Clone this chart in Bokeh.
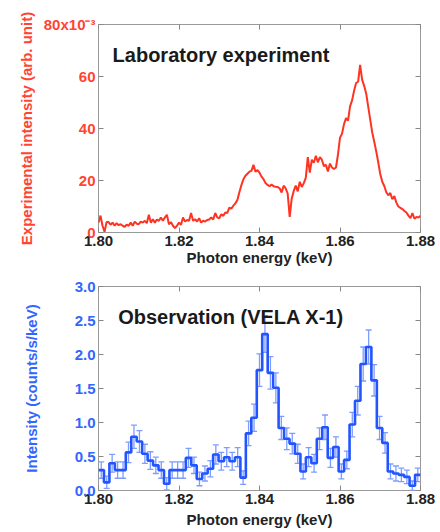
import numpy as np
from bokeh.plotting import figure
from bokeh.models import (FixedTicker, PrintfTickFormatter, LinearAxis, Label,
                          Range1d, Whisker, ColumnDataSource, TeeHead)
from bokeh.layouts import column
from bokeh.embed import file_html
from bokeh.resources import INLINE

# ---------------- data ----------------
# Laboratory experiment: photon energy grid (keV) and intensity (x10^-3 arb. unit)
lab_start = 1.800
lab_step = 0.0005
lab_intensity = [
    3.8, 6.5, 2.6, 0.3, 4.0, 4.0, 3.0, 3.8, 2.6, 3.6,
    2.8, 3.2, 2.6, 2.2, 3.0, 2.6, 3.8, 2.6, 4.2, 3.4,
    3.2, 4.2, 3.8, 4.5, 3.6, 6.8, 3.8, 5.1, 3.8, 5.0,
    4.5, 5.8, 4.5, 5.8, 6.8, 3.2, 4.0, 2.6, 1.7, 2.6,
    3.8, 3.0, 5.8, 4.2, 4.8, 4.5, 7.5, 4.5, 5.1, 4.2,
    5.5, 3.8, 4.5, 4.2, 4.8, 5.0, 5.8, 5.0, 7.5, 5.8,
    5.5, 7.0, 6.4, 7.7, 7.5, 9.6, 9.2, 10.3, 11.2, 12.5,
    15.5, 18.2, 20.5, 21.8, 22.6, 23.4, 23.7, 26.0, 23.4, 24.0,
    23.0, 21.5, 20.5, 19.0, 18.3, 17.8, 18.5, 17.8, 17.6, 17.5,
    17.0, 15.4, 18.0, 17.0, 15.0, 6.0, 13.0, 16.0, 18.0, 15.8,
    19.5, 17.5, 19.0, 21.0, 29.0, 23.0, 28.0, 26.8, 29.5, 27.0,
    29.0, 28.0, 25.5, 26.0, 23.5, 26.5, 25.0, 24.4, 25.0, 30.0,
    36.5, 38.0, 41.7, 44.0, 43.0, 48.5, 50.8, 54.5, 57.5, 58.0,
    64.5, 58.8, 56.4, 53.5, 48.5, 43.5, 38.5, 35.0, 31.2, 27.0,
    22.5, 19.5, 17.9, 15.5, 14.3, 15.2, 12.8, 14.0, 11.5, 10.0,
    9.5, 9.0, 8.3, 7.7, 6.5, 5.5, 7.5, 5.3, 6.0, 5.8, 6.4,
]

# Observation (VELA X-1): binned spectrum 1.80-1.88 keV
obs_range = (1.80, 1.88)
obs_values = [
    0.30, 0.12, 0.40, 0.30, 0.30, 0.56, 0.79, 0.72, 0.54, 0.44,
    0.37, 0.30, 0.10, 0.30, 0.30, 0.30, 0.48, 0.37, 0.17, 0.25,
    0.32, 0.53, 0.43, 0.49, 0.43, 0.49, 0.19, 0.84, 1.07, 1.77,
    2.30, 1.73, 1.51, 0.92, 0.76, 0.69, 0.54, 0.28, 0.49, 0.40,
    0.76, 0.93, 0.48, 0.64, 0.28, 0.45, 0.97, 1.32, 1.86, 2.11,
    1.62, 0.92, 0.70, 0.28, 0.25, 0.23, 0.20, 0.07, 0.23,
]
obs_errors = [
    0.12, 0.09, 0.13, 0.12, 0.12, 0.15, 0.17, 0.16, 0.14, 0.13,
    0.12, 0.12, 0.09, 0.12, 0.12, 0.12, 0.14, 0.12, 0.10, 0.11,
    0.12, 0.14, 0.13, 0.14, 0.13, 0.14, 0.10, 0.18, 0.20, 0.24,
    0.27, 0.24, 0.22, 0.17, 0.16, 0.15, 0.14, 0.11, 0.14, 0.13,
    0.16, 0.18, 0.14, 0.15, 0.11, 0.13, 0.18, 0.21, 0.25, 0.25,
    0.23, 0.17, 0.15, 0.11, 0.11, 0.10, 0.10, 0.07, 0.10,
]

x_ticks = [1.80, 1.82, 1.84, 1.86, 1.88]
lab_yticks = [0, 20, 40, 60, 80]
obs_yticks = [0.0, 0.5, 1.0, 1.5, 2.0, 2.5, 3.0]

# ---------------- style ----------------
FONT = "Liberation Sans"
RED = "#ff3322"
RED_TXT = "#ff4433"
BLUE = "#2255ff"
BLUE_TXT = "#3366ff"
ERR = "#7f9cff"
FRAME = "#9a9a9a"
W = 440


def base_axes(p, ycolor, yticks, yfmt, ylabel, ylabel_standoff, xlabel_standoff):
    p.outline_line_color = FRAME
    p.outline_line_width = 1
    p.xgrid.visible = False
    p.ygrid.visible = False
    xa = p.xaxis[0]
    ya = p.yaxis[0]
    xa.ticker = FixedTicker(ticks=x_ticks)
    xa.formatter = PrintfTickFormatter(format="%.2f")
    ya.ticker = FixedTicker(ticks=yticks)
    ya.formatter = PrintfTickFormatter(format=yfmt)
    for ax in (xa, ya):
        ax.axis_line_color = None
        ax.major_tick_in = 5
        ax.major_tick_out = 0
        ax.major_tick_line_color = "#888888"
        ax.minor_tick_line_color = None
        ax.major_label_text_font = FONT
        ax.major_label_text_font_size = "15px"
        ax.major_label_text_font_style = "bold"
        ax.axis_label_text_font = FONT
        ax.axis_label_text_font_size = "15px"
        ax.axis_label_text_font_style = "bold"
    xa.major_label_text_color = "#222222"
    xa.axis_label = "Photon energy (keV)"
    xa.axis_label_text_color = "#222222"
    xa.major_label_standoff = 3
    xa.axis_label_standoff = xlabel_standoff
    ya.major_label_text_color = ycolor
    ya.axis_label = ylabel
    ya.axis_label_text_color = ycolor
    ya.major_label_standoff = 3
    ya.axis_label_standoff = ylabel_standoff
    # mirrored (inward) ticks on the right and top edges, without labels
    ra = LinearAxis(ticker=FixedTicker(ticks=yticks))
    ta = LinearAxis(ticker=FixedTicker(ticks=x_ticks))
    for ax in (ra, ta):
        ax.axis_line_color = None
        ax.major_tick_in = 5
        ax.major_tick_out = 0
        ax.major_tick_line_color = "#888888"
        ax.minor_tick_line_color = None
        ax.major_label_text_color = None
        ax.major_label_text_font_size = "2px"
        ax.major_label_standoff = 0
    p.add_layout(ra, "right")
    p.add_layout(ta, "above")


# ---------------- top: laboratory experiment ----------------
lab_energy = [round(lab_start + i * lab_step, 4) for i in range(len(lab_intensity))]

p1 = figure(width=W, height=270, output_backend="svg", toolbar_location=None,
            x_range=Range1d(1.80, 1.88), y_range=Range1d(0, 80),
            min_border_left=98, min_border_right=20,
            min_border_top=24, min_border_bottom=38,
            background_fill_color="white", border_fill_color="white")
base_axes(p1, RED_TXT, lab_yticks, "%d", "Experimental intensity (arb. unit)", 6, 0)
p1.yaxis[0].major_label_overrides = {80: "80x10\u207b\u00b3"}
p1.line(lab_energy, lab_intensity, color=RED, line_width=2)
p1.add_layout(Label(x=1.8035, y=68.3, text="Laboratory experiment",
                    text_font=FONT, text_font_size="20px", text_font_style="bold",
                    text_color="#1a1a1a", text_baseline="alphabetic"))

# ---------------- bottom: observation ----------------
edges = np.linspace(obs_range[0], obs_range[1], len(obs_values) + 1)
centers = 0.5 * (edges[:-1] + edges[1:])
step_src = ColumnDataSource(dict(x=list(edges), y=obs_values + [obs_values[-1]]))
err_src = ColumnDataSource(dict(
    x=list(centers),
    upper=[v + e for v, e in zip(obs_values, obs_errors)],
    lower=[v - e for v, e in zip(obs_values, obs_errors)],
))

p2 = figure(width=W, height=262, output_backend="svg", toolbar_location=None,
            x_range=Range1d(1.80, 1.88), y_range=Range1d(0, 3.0),
            min_border_left=98, min_border_right=19,
            min_border_top=16, min_border_bottom=42,
            background_fill_color="white", border_fill_color="white")
base_axes(p2, BLUE_TXT, obs_yticks, "%.1f", "Intensity (counts/s/keV)", 32, 4)
wh = Whisker(source=err_src, base="x", upper="upper", lower="lower",
             line_color=ERR, line_width=1.3,
             upper_head=TeeHead(size=6, line_color=ERR, line_width=1.3),
             lower_head=TeeHead(size=6, line_color=ERR, line_width=1.3))
p2.add_layout(wh)
p2.step(x="x", y="y", source=step_src, mode="after", color=BLUE, line_width=2.6)
p2.add_layout(Label(x=1.8049, y=2.55, text="Observation (VELA X-1)",
                    text_font=FONT, text_font_size="20px", text_font_style="bold",
                    text_color="#1a1a1a", text_baseline="alphabetic"))

layout = column(p1, p2)
open("out.html", "w").write(file_html(layout, INLINE))
